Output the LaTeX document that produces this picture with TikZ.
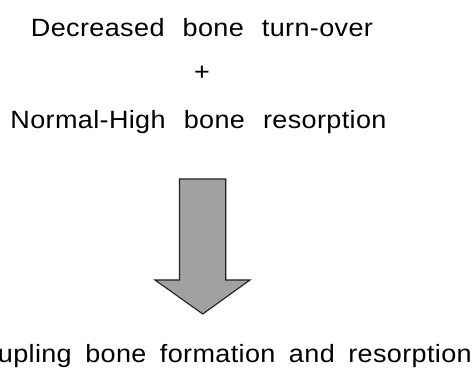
\documentclass[tikz,border=0pt]{standalone}
\usepackage{fontspec}
\setmainfont{Liberation Sans}[FakeStretch=1.08,WordSpace=2.3,LetterSpace=1.5]
\begin{document}
\begin{tikzpicture}[x=1pt,y=-1pt,
  lbl/.style={anchor=base,inner sep=0pt,font=\fontsize{25}{28}\selectfont},
  bigarrow/.style={fill=black!37,draw=black!88,line width=1.1pt,line join=miter}]
\useasboundingbox (0,0) rectangle (474,368);
\clip (0,0) rectangle (474,368);
\node[lbl] (t1) at (202,36) {Decreased bone turn-over};
\node[lbl] (plus) at (202,80) {+};
\node[lbl] (t2) at (198.5,128.3) {Normal-High bone resorption};
\draw[bigarrow] (179.5,179) -- (225.7,179) -- (225.7,280) -- (250,280) -- (202.7,314)
  -- (155,280) -- (179.5,280) -- cycle;
\node[lbl,anchor=base east] (t3) at (472,362) {\spaceskip=13.5pt Uncoupling bone formation and resorption};
\end{tikzpicture}
\end{document}
